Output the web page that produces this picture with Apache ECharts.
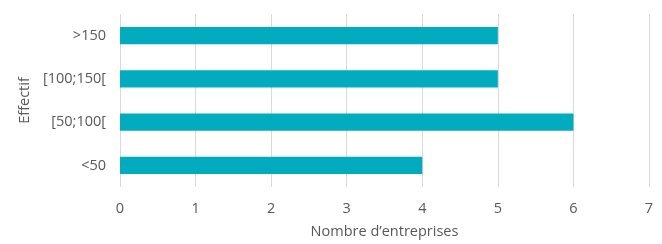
<!DOCTYPE html>
<html>
<head>
<meta charset="utf-8">
<script src="https://cdn.jsdelivr.net/npm/echarts@6/dist/echarts.min.js"></script>
<style>
  html, body { margin: 0; padding: 0; background: #fff; }
  #chart { width: 662px; height: 244px; }
</style>
</head>
<body>
<div id="chart"></div>
<script>
// catégories (de bas en haut) et valeurs
const categories = ['<50', '[50;100[', '[100;150[', '>150'];
const values = [4, 6, 5, 5];

const myChart = echarts.init(document.getElementById('chart'));

const option = {
  animation: false,
  textStyle: { fontFamily: 'Open Sans', color: '#595959' },
  grid: { left: 120, right: 13, top: 14, bottom: 56 },
  xAxis: {
    type: 'value',
    min: 0,
    max: 7,
    interval: 1,
    name: 'Nombre d\u2019entreprises',
    nameLocation: 'middle',
    nameGap: 37,
    nameTextStyle: { fontSize: 14.5, color: '#595959' },
    axisLine: { show: false },
    axisTick: { show: false },
    axisLabel: { fontSize: 14.5, color: '#595959', margin: 14 },
    splitLine: { lineStyle: { color: '#d9d9d9', width: 1 } }
  },
  yAxis: {
    type: 'category',
    data: categories,
    name: 'Effectif',
    nameLocation: 'middle',
    nameGap: 85,
    nameRotate: 90,
    nameTextStyle: { fontSize: 14.5, color: '#595959' },
    axisLine: { show: false },
    axisTick: { show: false },
    axisLabel: { fontSize: 14.5, color: '#595959', margin: 14 }
  },
  series: [{
    type: 'bar',
    data: values,
    barWidth: '40%',
    itemStyle: { color: '#02acbe' }
  }]
};

myChart.setOption(option);
</script>
</body>
</html>
